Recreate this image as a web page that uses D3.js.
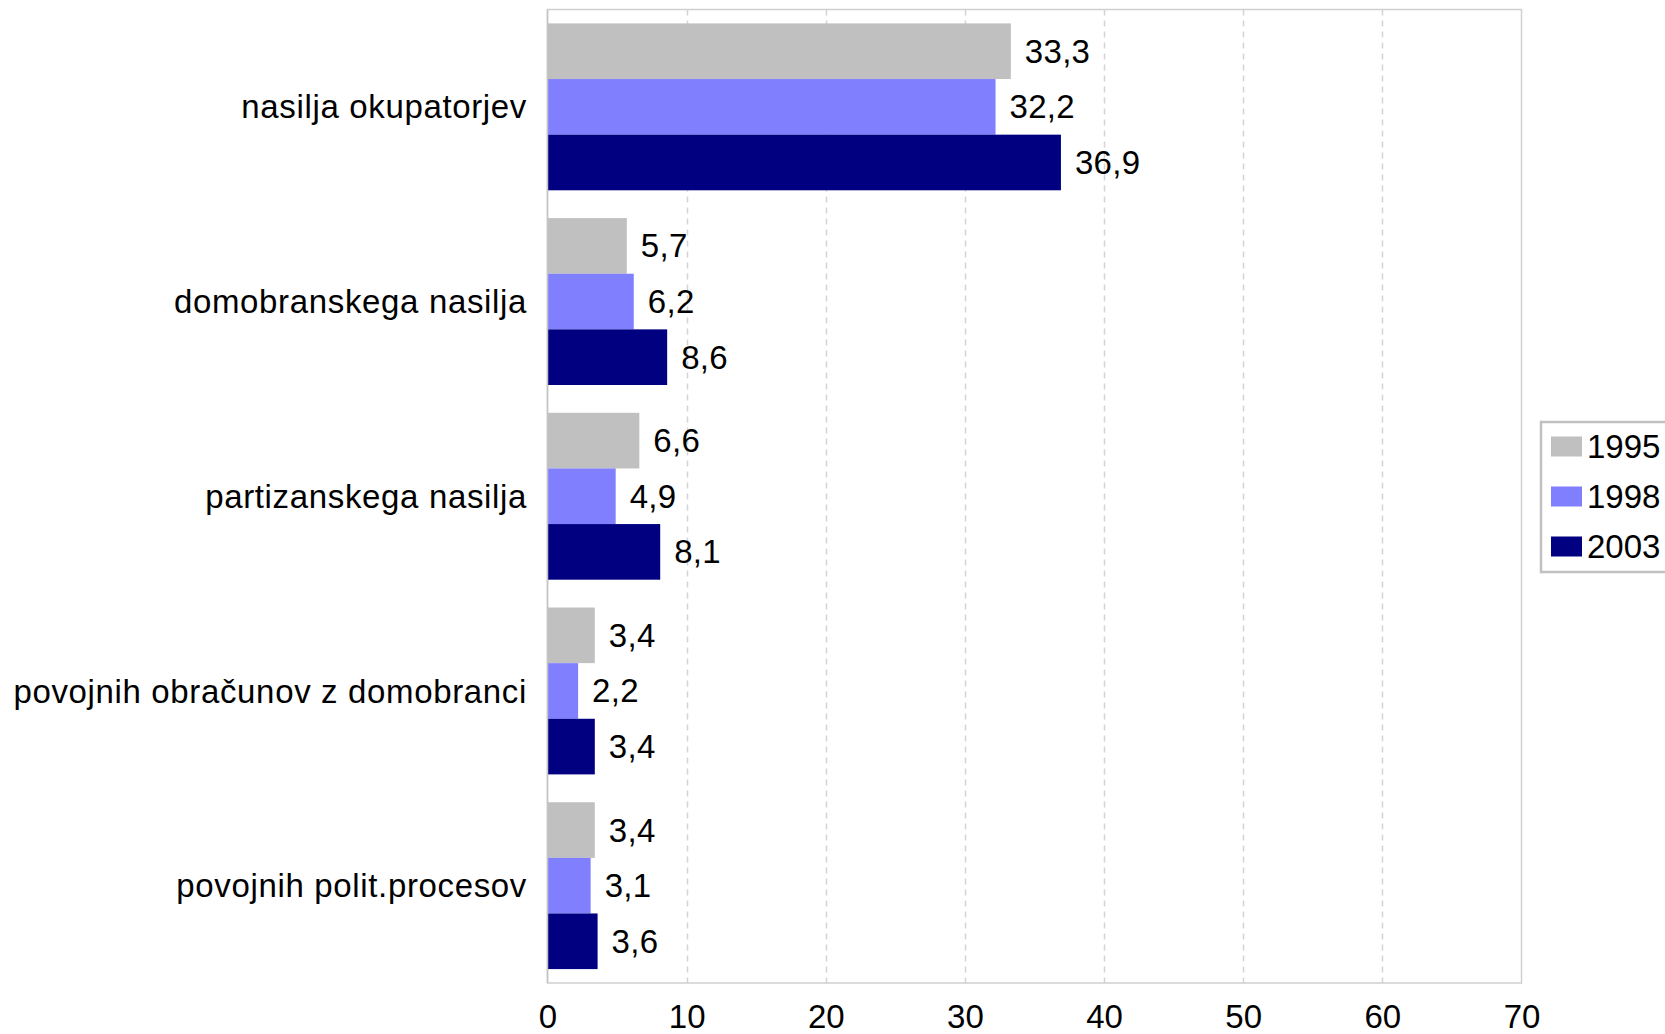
<!DOCTYPE html>
<html>
<head>
<meta charset="utf-8">
<script src="https://cdn.jsdelivr.net/npm/d3@7"></script>
<style>
  html, body { margin: 0; padding: 0; background: #ffffff; }
  svg { display: block; }
  text { font-family: "Liberation Sans", Arial, sans-serif; fill: #000; }
</style>
</head>
<body>
<svg id="chart" width="1665" height="1034"></svg>
<script>
const categories = [
  "nasilja okupatorjev",
  "domobranskega nasilja",
  "partizanskega nasilja",
  "povojnih obračunov z domobranci",
  "povojnih polit.procesov"
];
const seriesNames = ["1995", "1998", "2003"];
const values1995 = [33.3, 5.7, 6.6, 3.4, 3.4];
const values1998 = [32.2, 6.2, 4.9, 2.2, 3.1];
const values2003 = [36.9, 8.6, 8.1, 3.4, 3.6];
const seriesColors = ["#c0c0c0", "#8080ff", "#000080"];
const xTicks = [0, 10, 20, 30, 40, 50, 60, 70];

const seriesValues = [values1995, values1998, values2003];

const svg = d3.select("#chart");
const plot = { left: 547.5, right: 1521.5, top: 9.5, bottom: 983 };
const fontSize = 33;

const x = d3.scaleLinear().domain([0, 70]).range([plot.left, plot.right]);
const y = d3.scaleBand().domain(categories).range([plot.top, plot.bottom]).padding(0);
const yInner = d3.scaleBand().domain(seriesNames).range([0, y.bandwidth()])
  .paddingInner(0).paddingOuter(0.25);

// gridlines
svg.append("g")
  .selectAll("line")
  .data(xTicks.filter(t => t > 0 && t < 70))
  .join("line")
  .attr("x1", d => Math.round(x(d)) + 0.5)
  .attr("x2", d => Math.round(x(d)) + 0.5)
  .attr("y1", plot.top)
  .attr("y2", plot.bottom)
  .attr("stroke", "#d4d4d4")
  .attr("stroke-width", 1.5)
  .attr("stroke-dasharray", "6,5");

// plot border
svg.append("rect")
  .attr("x", plot.left)
  .attr("y", plot.top)
  .attr("width", plot.right - plot.left)
  .attr("height", plot.bottom - plot.top)
  .attr("fill", "none")
  .attr("stroke", "#d0d0d0")
  .attr("stroke-width", 1.5);

// bars
const groups = svg.append("g")
  .selectAll("g")
  .data(categories)
  .join("g")
  .attr("transform", d => `translate(0,${y(d)})`);

groups.each(function(cat, ci) {
  const g = d3.select(this);
  const rows = seriesNames.map((s, si) => ({ s, si, v: seriesValues[si][ci] }));
  g.selectAll("rect")
    .data(rows)
    .join("rect")
    .attr("x", x(0))
    .attr("y", d => yInner(d.s))
    .attr("width", d => x(d.v) - x(0))
    .attr("height", yInner.bandwidth())
    .attr("fill", d => seriesColors[d.si]);
  g.selectAll("text")
    .data(rows)
    .join("text")
    .attr("x", d => x(d.v) + 14)
    .attr("y", d => yInner(d.s) + yInner.bandwidth() / 2)
    .attr("dy", "0.35em")
    .attr("font-size", fontSize)
    .attr("letter-spacing", "0.3px")
    .text(d => String(d.v.toFixed(1)).replace(".", ","));
});

// left axis line (slightly darker)
svg.append("line")
  .attr("x1", plot.left).attr("x2", plot.left)
  .attr("y1", plot.top).attr("y2", plot.bottom)
  .attr("stroke", "#c4c4c4").attr("stroke-width", 1.5);

// category labels
svg.append("g")
  .selectAll("text")
  .data(categories)
  .join("text")
  .attr("x", 527)
  .attr("y", d => y(d) + y.bandwidth() / 2)
  .attr("dy", "0.35em")
  .attr("text-anchor", "end")
  .attr("font-size", fontSize)
  .attr("letter-spacing", "0.65px")
  .text(d => d);

// x axis tick labels
const xAxis = d3.axisBottom(x).tickValues(xTicks).tickSize(0).tickPadding(0)
  .tickFormat(d => String(d));
const ax = svg.append("g")
  .attr("transform", `translate(0,${1028})`)
  .call(xAxis);
ax.select(".domain").remove();
ax.selectAll("text")
  .attr("font-size", fontSize)
  .attr("font-family", "Liberation Sans, Arial, sans-serif")
  .attr("fill", "#000")
  .attr("dy", 0)
  .attr("y", 0);

// legend
const legend = svg.append("g");
legend.append("rect")
  .attr("x", 1541)
  .attr("y", 422)
  .attr("width", 160)
  .attr("height", 150)
  .attr("fill", "#fff")
  .attr("stroke", "#c0c0c0")
  .attr("stroke-width", 2.5);
const legY = d3.scalePoint().domain(seriesNames).range([446.5, 546.5]);
legend.selectAll("rect.sw")
  .data(seriesNames)
  .join("rect")
  .attr("class", "sw")
  .attr("x", 1551)
  .attr("y", d => legY(d) - 10)
  .attr("width", 31)
  .attr("height", 20)
  .attr("fill", (d, i) => seriesColors[i]);
legend.selectAll("text")
  .data(seriesNames)
  .join("text")
  .attr("x", 1587)
  .attr("y", d => legY(d))
  .attr("dy", "0.35em")
  .attr("font-size", fontSize)
  .text(d => d);
</script>
</body>
</html>
